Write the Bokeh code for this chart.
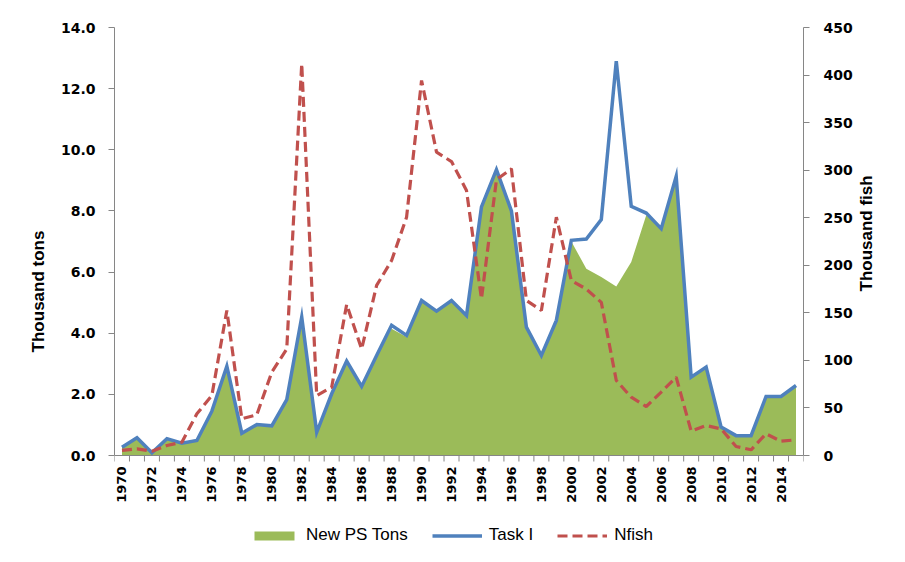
import math
from bokeh.plotting import figure
from bokeh.models import (Range1d, LinearAxis, FixedTicker, NumeralTickFormatter,
                          Legend, LegendItem)
from bokeh.core.properties import value
from bokeh.embed import file_html
from bokeh.resources import INLINE

years = list(range(1970, 2016))
task_i = [0.27, 0.58, 0.09, 0.55, 0.40, 0.49, 1.45, 2.92, 0.73, 1.01,
          0.97, 1.83, 4.53, 0.76, 2.02, 3.09, 2.26, 3.27, 4.26, 3.93,
          5.07, 4.72, 5.07, 4.58, 8.13, 9.35, 8.00, 4.20, 3.27, 4.42,
          7.04, 7.08, 7.72, 12.90, 8.15, 7.93, 7.42, 9.13, 2.56, 2.89,
          0.93, 0.65, 0.65, 1.93, 1.93, 2.29]
new_ps_tons = [0.27, 0.58, 0.09, 0.55, 0.40, 0.49, 1.45, 2.92, 0.73, 1.01,
               0.97, 1.83, 4.53, 0.76, 2.02, 3.09, 2.26, 3.27, 4.15, 3.88,
               5.07, 4.72, 5.07, 4.58, 8.13, 9.35, 8.00, 4.20, 3.27, 4.42,
               7.00, 6.11, 5.84, 5.53, 6.33, 7.86, 7.42, 9.13, 2.56, 2.89,
               0.93, 0.65, 0.65, 1.93, 1.93, 2.29]
nfish = [5.3, 7, 4.5, 10.5, 14, 43.8, 63, 152.5, 38.6, 42.8,
         87.6, 112, 411.8, 63, 71.8, 158.8, 112, 178.8, 205, 250.6,
         394.3, 319, 309, 278.7, 164.8, 290, 301.5, 163, 152.5, 250.6,
         184, 175, 161, 78.9, 61.3, 51.5, 66.6, 82.3, 25.6, 31.5,
         28, 9.5, 6, 22.8, 15, 16.5]

left_ticks = [0, 2, 4, 6, 8, 10, 12, 14]
right_ticks = [0, 50, 100, 150, 200, 250, 300, 350, 400, 450]
label_years = list(range(1970, 2016, 2))

GREEN = "#9BBB59"
BLUE = "#4F81BD"
RED = "#C0504D"
AXIS = "#868686"

# layout (pixels): plot area top 27, zero line at 455, frame extended to 555
TOP, ZERO, BOTTOM = 27, 455, 555
LMAX, RMAX = 14, 450
extra = (BOTTOM - ZERO) / (ZERO - TOP)

p = figure(width=897, height=562, output_backend="svg", toolbar_location=None,
           x_range=Range1d(years[0] - 0.5, years[-1] + 0.5),
           y_range=Range1d(-LMAX * extra, LMAX),
           x_axis_location=None,
           min_border_left=114, min_border_right=94,
           min_border_top=TOP, min_border_bottom=562 - BOTTOM)
p.outline_line_color = None
p.grid.visible = False
p.background_fill_color = "white"
p.border_fill_color = "white"

p.extra_y_ranges = {"fish": Range1d(-RMAX * extra, RMAX)}

area = p.varea(x=years, y1=[0] * len(years), y2=new_ps_tons, fill_color=GREEN)

# category (x) axis drawn at zero
tick_pos = [y - 0.5 for y in years] + [years[-1] + 0.5]
p.segment(x0=[tick_pos[0]], y0=[0], x1=[tick_pos[-1]], y1=[0],
          line_color=AXIS, line_width=1)
p.ray(x=tick_pos, y=[0] * len(tick_pos), length=6, length_units="screen",
      angle=-math.pi / 2, line_color=AXIS, line_width=1)
p.text(x=label_years, y=[0] * len(label_years),
       text=[str(y) for y in label_years], angle=math.pi / 2,
       text_align="right", text_baseline="middle", y_offset=11,
       text_font=value("DejaVu Sans"), text_font_style="bold",
       text_font_size="13px", text_color="black")

blue = p.line(years, task_i, line_color=BLUE, line_width=3.5, line_join="miter")
red = p.line(years, nfish, line_color=RED, line_width=3.2, line_dash="10 5",
             y_range_name="fish")

tick_font = "DejaVu Sans"

# left axis
ya = p.yaxis[0]
ya.bounds = (0, LMAX)
ya.ticker = FixedTicker(ticks=left_ticks)
ya.formatter = NumeralTickFormatter(format="0.0")
ya.major_tick_out = 6
ya.major_tick_in = 0
ya.minor_tick_out = 0
ya.minor_tick_in = 0
ya.axis_line_color = AXIS
ya.major_tick_line_color = AXIS
ya.major_label_standoff = 13
ya.major_label_text_font = tick_font
ya.major_label_text_font_style = "bold"
ya.major_label_text_font_size = "14px"
ya.major_label_text_color = "black"
ya.axis_label = "Thousand tons"
ya.axis_label_text_font = "Liberation Sans"
ya.axis_label_text_font_style = "bold"
ya.axis_label_text_font_size = "17px"
ya.axis_label_text_color = "black"
ya.axis_label_standoff = 10

# right axis
ra = LinearAxis(y_range_name="fish", ticker=FixedTicker(ticks=right_ticks),
                formatter=NumeralTickFormatter(format="0"), bounds=(0, RMAX))
ra.major_tick_out = 6
ra.major_tick_in = 0
ra.minor_tick_out = 0
ra.minor_tick_in = 0
ra.axis_line_color = AXIS
ra.major_tick_line_color = AXIS
ra.major_label_standoff = 14
ra.major_label_text_font = tick_font
ra.major_label_text_font_style = "bold"
ra.major_label_text_font_size = "14px"
ra.major_label_text_color = "black"
ra.axis_label = "Thousand fish"
ra.axis_label_orientation = math.pi / 2
ra.axis_label_text_font = "Liberation Sans"
ra.axis_label_text_font_style = "bold"
ra.axis_label_text_font_size = "17px"
ra.axis_label_text_color = "black"
ra.axis_label_standoff = 11
p.add_layout(ra, "right")

legend = Legend(items=[LegendItem(label="New PS Tons", renderers=[area]),
                       LegendItem(label="Task I", renderers=[blue]),
                       LegendItem(label="Nfish", renderers=[red])],
                orientation="horizontal", location=(135, 10),
                padding=4, spacing=24, label_standoff=7,
                glyph_width=50, glyph_height=11,
                border_line_color=None, background_fill_alpha=0,
                label_text_font="Liberation Sans", label_text_font_size="17px",
                label_text_color="black")
p.add_layout(legend)

open("out.html", "w").write(file_html(p, INLINE))
